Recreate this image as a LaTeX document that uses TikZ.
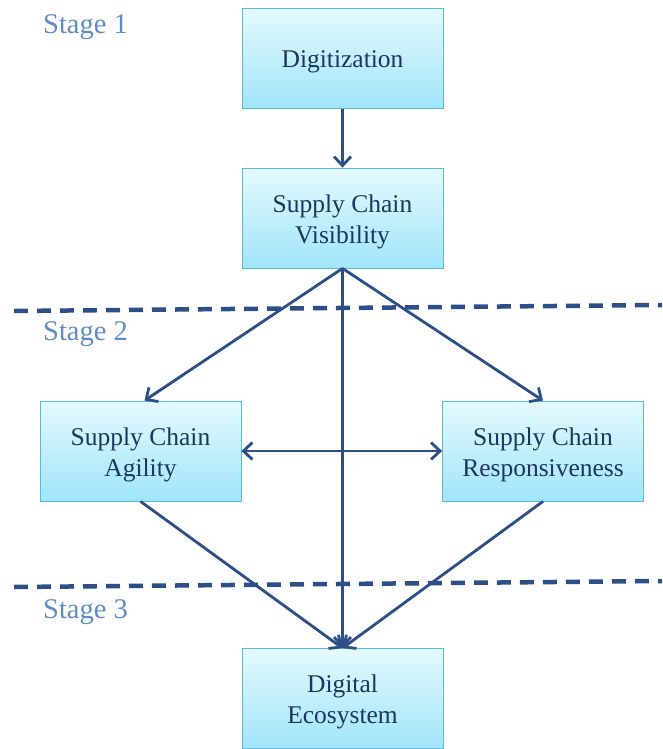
\documentclass[tikz,border=0pt]{standalone}
\usepackage{fontspec}
\setmainfont{Liberation Serif}
\usetikzlibrary{arrows.meta}
\definecolor{arr}{HTML}{2B4F86}
\definecolor{txt}{HTML}{1C365F}
\definecolor{stg}{HTML}{5F8CC6}
\definecolor{bord}{HTML}{5BBAD8}
\definecolor{topc}{HTML}{E4F9FE}
\definecolor{botc}{HTML}{A0E5F9}
\tikzset{
  stagebox/.style={draw=bord, line width=0.8pt, top color=topc, bottom color=botc,
    minimum width=201pt, minimum height=100pt, inner sep=0pt},
  boxtext/.style={align=center, text=txt, font=\fontsize{25.5}{31}\selectfont, inner sep=0pt, yshift=-3.5pt},
  conn/.style={draw=arr, line width=2.8pt, -{Straight Barb[length=9pt,width=17pt,line width=2.8pt]}},
  bconn/.style={draw=arr, line width=2.8pt, {Straight Barb[length=9pt,width=17pt,line width=2.8pt]}-{Straight Barb[length=9pt,width=17pt,line width=2.8pt]}},
  divider/.style={draw=arr, line width=4.5pt, dash pattern=on 14pt off 9pt},
  stagelabel/.style={text=stg, font=\fontsize{28.5}{32}\selectfont, anchor=west, inner sep=0pt}
}
\begin{document}
\begin{tikzpicture}[x=1pt,y=-1pt]
\useasboundingbox (0,0) rectangle (662,749);
\node[stagebox, label={[boxtext]center:Digitization}] (dig) at (342.5,58.5) {};
\node[stagebox, label={[boxtext]center:{Supply Chain\\Visibility}}] (vis) at (342.5,218) {};
\node[stagebox, label={[boxtext]center:{Supply Chain\\Agility}}] (agi) at (140.5,451) {};
\node[stagebox, label={[boxtext]center:{Supply Chain\\Responsiveness}}] (res) at (543,451) {};
\node[stagebox, label={[boxtext]center:{Digital\\Ecosystem}}] (eco) at (342.5,698.5) {};

\coordinate (d1a) at (14,311);
\coordinate (d1b) at (662,305);
\coordinate (d2a) at (14,587);
\coordinate (d2b) at (662,581);
\draw[divider] (d1a) -- (d1b);
\draw[divider] (d2a) -- (d2b);

\node[stagelabel] (s1) at (43,27) {Stage 1};
\node[stagelabel] (s2) at (43,334) {Stage 2};
\node[stagelabel] (s3) at (43,612) {Stage 3};

\draw[conn] (dig.south) -- (vis.north);
\draw[conn] (vis.south) -- ([xshift=4pt]agi.north);
\draw[conn] (vis.south) -- (res.north);
\draw[conn] (vis.south) -- (eco.north);
\draw[bconn] (agi.east) -- (res.west);
\draw[conn] (agi.south) -- (eco.north);
\draw[conn] (res.south) -- (eco.north);
\end{tikzpicture}
\end{document}
